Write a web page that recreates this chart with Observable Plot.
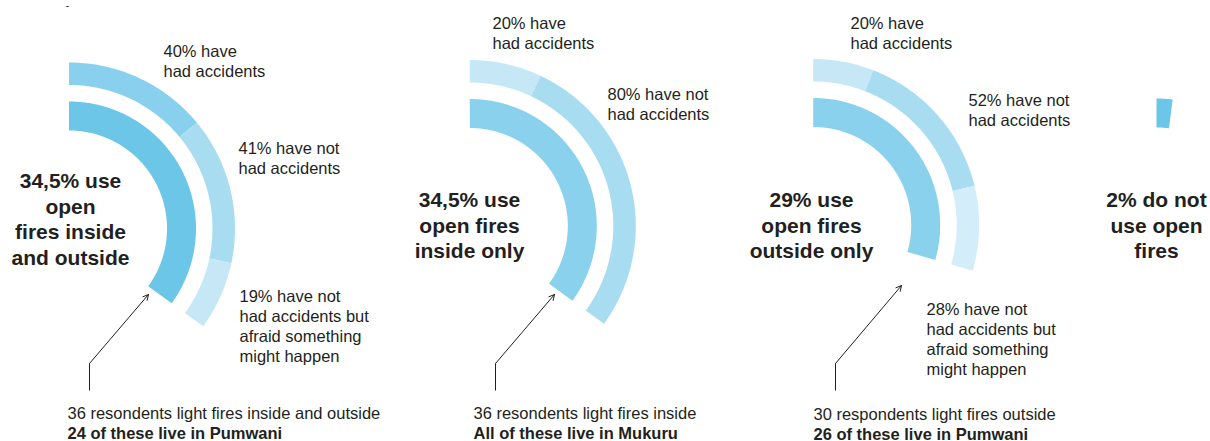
<!DOCTYPE html>
<html>
<head>
<meta charset="utf-8">
<script src="https://cdn.jsdelivr.net/npm/d3@7"></script>
<script src="https://cdn.jsdelivr.net/npm/@observablehq/plot@0.6"></script>
<style>
  html, body { margin: 0; padding: 0; background: #fff; }
  #chart { width: 1210px; height: 441px; }
</style>
</head>
<body>
<div id="chart"></div>
<script>
// ---------------- data ----------------
const groups = ["Inside and outside", "Inside only", "Outside only", "No open fires"];
const shareUsingFires = [34.5, 34.5, 29, 2];
const headlines = [
  "34,5% use\nopen\nfires inside\nand outside",
  "34,5% use\nopen fires\ninside only",
  "29% use\nopen fires\noutside only",
  "2% do not\nuse open\nfires"
];
const accidentShares = [[40, 41, 19], [20, 80], [20, 52, 28], []];
const accidentLabels = [
  ["40% have\nhad accidents", "41% have not\nhad accidents", "19% have not\nhad accidents but\nafraid something\nmight happen"],
  ["20% have\nhad accidents", "80% have not\nhad accidents"],
  ["20% have\nhad accidents", "52% have not\nhad accidents", "28% have not\nhad accidents but\nafraid something\nmight happen"],
  []
];
const captionCounts = [
  "36 resondents light fires inside and outside",
  "36 resondents light fires inside",
  "30 respondents light fires outside",
  null
];
const captionPlaces = [
  "24 of these live in Pumwani",
  "All of these live in Mukuru",
  "26 of these live in Pumwani",
  null
];

// ---------------- styles & layout ----------------
const TEXT = "#231f20";
const innerFill = ["#6cc6e8", "#8ad1ee", "#8ad1ee", "#6cc6e8"];
const outerFill = [
  ["#89d0ee", "#a8ddf1", "#c6e8f6"],
  ["#c6e8f6", "#a8ddf1"],
  ["#c6e8f6", "#a8ddf1", "#d3eef8"],
  []
];
const centers = [[68.5, 228], [469.3, 225.5], [812.7, 224.5], [1156, 225]];
const innerR = [98, 127];
const outerR = [143.5, 166];
const labelPos = [
  [[163, 45], [238, 142], [239, 290]],
  [[492, 17], [607, 88]],
  [[850, 17], [968, 94], [926, 303]],
  []
];
const headlinePos = [[70, 173], [469, 192], [811, 192], [1156, 192]];
const captionPos = [[67, 407], [473, 407], [813, 408], null];
const arrowPath = [
  [[89, 390], [89, 363], [148, 294]],
  [[495, 390], [495, 363], [554, 294]],
  [[835, 390], [835, 363], [901, 285]],
  null
];

const LABEL_FS = 16.5, HEAD_FS = 21, LH = 1.21;

// percent of respondents -> angle (clockwise from 12 o'clock)
const angle = d3.scaleLinear().domain([0, 100]).range([0, 2 * Math.PI * 1.015]);

// ---------------- build arc segments ----------------
const segments = [];
groups.forEach((g, i) => {
  const [cx, cy] = centers[i];
  const total = angle(shareUsingFires[i]);
  segments.push({id: `${i}-inner`, cx, cy, a0: 0, a1: total, r: innerR, fill: innerFill[i]});
  let acc = 0;
  accidentShares[i].forEach((v, j) => {
    const a0 = total * acc / 100;
    acc += v;
    const a1 = total * acc / 100;
    segments.push({id: `${i}-outer-${j}`, cx, cy, a0, a1, r: outerR, fill: outerFill[i][j]});
  });
});

const arcPoints = segments.flatMap(s => {
  const n = Math.max(2, Math.ceil((s.a1 - s.a0) / 0.01));
  const out = [];
  for (let k = 0; k <= n; k++) {
    const a = s.a0 + (s.a1 - s.a0) * k / n;
    out.push({id: s.id, fill: s.fill, x: s.cx + s.r[1] * Math.sin(a), y: s.cy - s.r[1] * Math.cos(a)});
  }
  for (let k = n; k >= 0; k--) {
    const a = s.a0 + (s.a1 - s.a0) * k / n;
    out.push({id: s.id, fill: s.fill, x: s.cx + s.r[0] * Math.sin(a), y: s.cy - s.r[0] * Math.cos(a)});
  }
  return out;
});

const labelRows = groups.flatMap((g, i) =>
  accidentLabels[i].map((t, j) => ({text: t, x: labelPos[i][j][0], y: labelPos[i][j][1]})));
const headlineRows = groups.map((g, i) => ({text: headlines[i], x: headlinePos[i][0], y: headlinePos[i][1]}));
const captionRows = groups.map((g, i) => captionPos[i] ? {
  count: captionCounts[i], place: captionPlaces[i], x: captionPos[i][0], y: captionPos[i][1]
} : null).filter(d => d);
const arrowRows = arrowPath.filter(d => d).map(p => ({
  x0: p[0][0], y0: p[0][1], x1: p[1][0], y1: p[1][1], x2: p[2][0], y2: p[2][1]
}));

const FONT = "'Liberation Sans', Arial, Helvetica, sans-serif";
// Plot places the first line of multi-line text at 0.71*lineHeight em; bring cap tops back to y
const multiDy = fs => -0.71 * (LH - 1) * fs;

const chart = Plot.plot({
  width: 1210,
  height: 441,
  margin: 0,
  style: {fontFamily: FONT, background: "#fff", overflow: "visible"},
  x: {type: "linear", domain: [0, 1210], range: [0, 1210], axis: null},
  y: {type: "linear", domain: [0, 441], range: [0, 441], axis: null},
  color: {type: "identity"},
  marks: [
    Plot.line(arcPoints, {x: "x", y: "y", z: "id", fill: "fill", stroke: "none", curve: "linear"}),
    Plot.link(arrowRows, {x1: "x0", y1: "y0", x2: "x1", y2: "y1", stroke: TEXT, strokeWidth: 1}),
    Plot.arrow(arrowRows, {x1: "x1", y1: "y1", x2: "x2", y2: "y2", stroke: TEXT, strokeWidth: 1, headLength: 9, headAngle: 55, insetStart: 0, insetEnd: 0}),
    Plot.text(labelRows, {x: "x", y: "y", text: "text", textAnchor: "start", lineAnchor: "top", dy: multiDy(LABEL_FS),
      fontSize: LABEL_FS, lineHeight: LH, fill: TEXT, fontFamily: FONT}),
    Plot.text(headlineRows, {x: "x", y: "y", text: "text", textAnchor: "middle", lineAnchor: "top", dy: multiDy(HEAD_FS),
      fontSize: HEAD_FS, fontWeight: "bold", lineHeight: LH, fill: TEXT, fontFamily: FONT}),
    Plot.text(captionRows, {x: "x", y: "y", text: "count", textAnchor: "start", lineAnchor: "top",
      fontSize: LABEL_FS, fill: TEXT, fontFamily: FONT}),
    Plot.text(captionRows, {x: "x", y: d => d.y + 19.5, text: "place", textAnchor: "start", lineAnchor: "top",
      fontSize: LABEL_FS, fontWeight: "bold", fill: TEXT, fontFamily: FONT}),
    Plot.text(["-"], {x: () => 67, y: () => 5, text: d => d, fontSize: 10, fill: TEXT, fontFamily: FONT})
  ]
});
document.getElementById("chart").appendChild(chart);
</script>
</body>
</html>
